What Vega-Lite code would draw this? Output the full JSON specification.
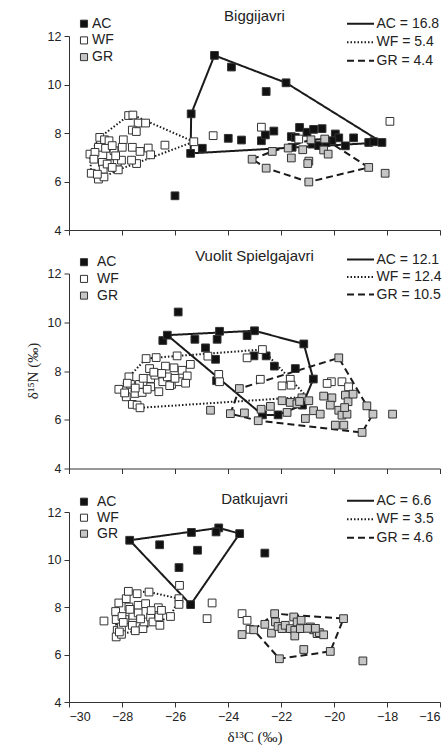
{
  "$schema": "https://vega.github.io/schema/vega-lite/v6.json",
  "background": "white",
  "padding": {"left": 25, "top": 8, "right": 6, "bottom": 2},
  "config": {
    "view": {"stroke": null},
    "axis": {"grid": false, "domainColor": "#333", "tickColor": "#333", "labelFont": "Liberation Sans", "labelFontSize": 12.5, "labelColor": "#222", "tickSize": 5, "labelPadding": 3, "domainWidth": 1},
    "legend": {"labelFont": "Liberation Sans", "labelFontSize": 14, "labelColor": "#222", "padding": 0, "title": null},
    "title": {"font": "Liberation Sans", "fontSize": 15, "fontWeight": "normal", "color": "#222", "anchor": "middle", "baseline": "alphabetic"}
  },
  "datasets": {
    "pts": [
      {"lake":"Biggijavri","group":"AC","d13C":-26.0,"d15N":5.41},{"lake":"Biggijavri","group":"AC","d13C":-25.41,"d15N":7.16},{"lake":"Biggijavri","group":"AC","d13C":-25.39,"d15N":8.79},{"lake":"Biggijavri","group":"AC","d13C":-24.51,"d15N":11.2},{"lake":"Biggijavri","group":"AC","d13C":-23.87,"d15N":10.72},{"lake":"Biggijavri","group":"AC","d13C":-24.97,"d15N":7.37},{"lake":"Biggijavri","group":"AC","d13C":-22.56,"d15N":9.71},{"lake":"Biggijavri","group":"AC","d13C":-21.81,"d15N":10.07},{"lake":"Biggijavri","group":"AC","d13C":-18.19,"d15N":7.61},{"lake":"Biggijavri","group":"AC","d13C":-23.99,"d15N":7.78},{"lake":"Biggijavri","group":"AC","d13C":-23.49,"d15N":7.71},{"lake":"Biggijavri","group":"AC","d13C":-22.74,"d15N":7.68},{"lake":"Biggijavri","group":"AC","d13C":-22.59,"d15N":7.92},{"lake":"Biggijavri","group":"AC","d13C":-22.27,"d15N":8.08},{"lake":"Biggijavri","group":"AC","d13C":-21.61,"d15N":7.85},{"lake":"Biggijavri","group":"AC","d13C":-21.3,"d15N":8.23},{"lake":"Biggijavri","group":"AC","d13C":-21.58,"d15N":7.41},{"lake":"Biggijavri","group":"AC","d13C":-21.02,"d15N":8.03},{"lake":"Biggijavri","group":"AC","d13C":-20.77,"d15N":8.15},{"lake":"Biggijavri","group":"AC","d13C":-20.45,"d15N":8.18},{"lake":"Biggijavri","group":"AC","d13C":-20.83,"d15N":7.54},{"lake":"Biggijavri","group":"AC","d13C":-20.58,"d15N":7.48},{"lake":"Biggijavri","group":"AC","d13C":-19.95,"d15N":7.96},{"lake":"Biggijavri","group":"AC","d13C":-19.82,"d15N":7.8},{"lake":"Biggijavri","group":"AC","d13C":-19.57,"d15N":7.47},{"lake":"Biggijavri","group":"AC","d13C":-19.26,"d15N":7.8},{"lake":"Biggijavri","group":"AC","d13C":-18.69,"d15N":7.61},{"lake":"Biggijavri","group":"AC","d13C":-18.5,"d15N":7.64},{"lake":"Biggijavri","group":"AC","d13C":-20.08,"d15N":7.68},{"lake":"Biggijavri","group":"AC","d13C":-21.46,"d15N":7.82},{"lake":"Biggijavri","group":"AC","d13C":-20.3,"d15N":7.6},
      {"lake":"Biggijavri","group":"WF","d13C":-29.21,"d15N":7.13},{"lake":"Biggijavri","group":"WF","d13C":-29.16,"d15N":6.34},{"lake":"Biggijavri","group":"WF","d13C":-28.89,"d15N":6.1},{"lake":"Biggijavri","group":"WF","d13C":-28.68,"d15N":6.19},{"lake":"Biggijavri","group":"WF","d13C":-28.84,"d15N":7.82},{"lake":"Biggijavri","group":"WF","d13C":-28.66,"d15N":7.72},{"lake":"Biggijavri","group":"WF","d13C":-28.49,"d15N":7.68},{"lake":"Biggijavri","group":"WF","d13C":-28.74,"d15N":6.79},{"lake":"Biggijavri","group":"WF","d13C":-28.71,"d15N":6.51},{"lake":"Biggijavri","group":"WF","d13C":-28.56,"d15N":6.72},{"lake":"Biggijavri","group":"WF","d13C":-28.43,"d15N":7.06},{"lake":"Biggijavri","group":"WF","d13C":-28.3,"d15N":7.27},{"lake":"Biggijavri","group":"WF","d13C":-28.18,"d15N":6.79},{"lake":"Biggijavri","group":"WF","d13C":-28.14,"d15N":6.48},{"lake":"Biggijavri","group":"WF","d13C":-28.02,"d15N":6.88},{"lake":"Biggijavri","group":"WF","d13C":-27.95,"d15N":7.72},{"lake":"Biggijavri","group":"WF","d13C":-27.99,"d15N":7.41},{"lake":"Biggijavri","group":"WF","d13C":-28.89,"d15N":7.41},{"lake":"Biggijavri","group":"WF","d13C":-29.02,"d15N":7.2},{"lake":"Biggijavri","group":"WF","d13C":-28.62,"d15N":7.37},{"lake":"Biggijavri","group":"WF","d13C":-28.37,"d15N":7.48},{"lake":"Biggijavri","group":"WF","d13C":-27.75,"d15N":8.72},{"lake":"Biggijavri","group":"WF","d13C":-27.59,"d15N":8.74},{"lake":"Biggijavri","group":"WF","d13C":-27.39,"d15N":8.41},{"lake":"Biggijavri","group":"WF","d13C":-27.11,"d15N":8.41},{"lake":"Biggijavri","group":"WF","d13C":-27.61,"d15N":8.12},{"lake":"Biggijavri","group":"WF","d13C":-27.46,"d15N":8.06},{"lake":"Biggijavri","group":"WF","d13C":-27.61,"d15N":7.41},{"lake":"Biggijavri","group":"WF","d13C":-27.32,"d15N":7.24},{"lake":"Biggijavri","group":"WF","d13C":-27.01,"d15N":7.38},{"lake":"Biggijavri","group":"WF","d13C":-26.92,"d15N":7.1},{"lake":"Biggijavri","group":"WF","d13C":-27.45,"d15N":6.74},{"lake":"Biggijavri","group":"WF","d13C":-27.64,"d15N":6.88},{"lake":"Biggijavri","group":"WF","d13C":-26.38,"d15N":7.5},{"lake":"Biggijavri","group":"WF","d13C":-25.29,"d15N":7.64},{"lake":"Biggijavri","group":"WF","d13C":-24.56,"d15N":7.89},{"lake":"Biggijavri","group":"WF","d13C":-22.74,"d15N":8.24},{"lake":"Biggijavri","group":"WF","d13C":-21.33,"d15N":7.75},{"lake":"Biggijavri","group":"WF","d13C":-17.89,"d15N":8.48},{"lake":"Biggijavri","group":"WF","d13C":-28.93,"d15N":6.3},{"lake":"Biggijavri","group":"WF","d13C":-29.06,"d15N":6.92},{"lake":"Biggijavri","group":"WF","d13C":-28.37,"d15N":6.58},{"lake":"Biggijavri","group":"WF","d13C":-28.24,"d15N":7.06},
      {"lake":"Biggijavri","group":"GR","d13C":-23.09,"d15N":6.92},{"lake":"Biggijavri","group":"GR","d13C":-22.56,"d15N":6.55},{"lake":"Biggijavri","group":"GR","d13C":-22.33,"d15N":7.24},{"lake":"Biggijavri","group":"GR","d13C":-21.73,"d15N":7.38},{"lake":"Biggijavri","group":"GR","d13C":-21.61,"d15N":6.97},{"lake":"Biggijavri","group":"GR","d13C":-21.18,"d15N":7.31},{"lake":"Biggijavri","group":"GR","d13C":-20.95,"d15N":6.84},{"lake":"Biggijavri","group":"GR","d13C":-20.99,"d15N":6.74},{"lake":"Biggijavri","group":"GR","d13C":-20.87,"d15N":7.72},{"lake":"Biggijavri","group":"GR","d13C":-20.35,"d15N":7.75},{"lake":"Biggijavri","group":"GR","d13C":-20.39,"d15N":7.3},{"lake":"Biggijavri","group":"GR","d13C":-20.22,"d15N":7.13},{"lake":"Biggijavri","group":"GR","d13C":-20.95,"d15N":5.98},{"lake":"Biggijavri","group":"GR","d13C":-18.69,"d15N":6.58},{"lake":"Biggijavri","group":"GR","d13C":-18.07,"d15N":6.34},

      {"lake":"Vuolit Spielgajavri","group":"AC","d13C":-25.88,"d15N":10.42},{"lake":"Vuolit Spielgajavri","group":"AC","d13C":-26.46,"d15N":9.25},{"lake":"Vuolit Spielgajavri","group":"AC","d13C":-26.29,"d15N":9.47},{"lake":"Vuolit Spielgajavri","group":"AC","d13C":-25.25,"d15N":9.3},{"lake":"Vuolit Spielgajavri","group":"AC","d13C":-24.32,"d15N":9.63},{"lake":"Vuolit Spielgajavri","group":"AC","d13C":-24.41,"d15N":9.3},{"lake":"Vuolit Spielgajavri","group":"AC","d13C":-23.0,"d15N":9.65},{"lake":"Vuolit Spielgajavri","group":"AC","d13C":-23.28,"d15N":9.45},{"lake":"Vuolit Spielgajavri","group":"AC","d13C":-24.85,"d15N":8.95},{"lake":"Vuolit Spielgajavri","group":"AC","d13C":-24.47,"d15N":8.48},{"lake":"Vuolit Spielgajavri","group":"AC","d13C":-23.02,"d15N":8.62},{"lake":"Vuolit Spielgajavri","group":"AC","d13C":-22.56,"d15N":8.62},{"lake":"Vuolit Spielgajavri","group":"AC","d13C":-22.25,"d15N":8.2},{"lake":"Vuolit Spielgajavri","group":"AC","d13C":-21.46,"d15N":8.1},{"lake":"Vuolit Spielgajavri","group":"AC","d13C":-21.14,"d15N":9.11},{"lake":"Vuolit Spielgajavri","group":"AC","d13C":-20.78,"d15N":7.67},{"lake":"Vuolit Spielgajavri","group":"AC","d13C":-21.19,"d15N":6.6},{"lake":"Vuolit Spielgajavri","group":"AC","d13C":-22.11,"d15N":6.2},{"lake":"Vuolit Spielgajavri","group":"AC","d13C":-22.7,"d15N":6.2},{"lake":"Vuolit Spielgajavri","group":"AC","d13C":-24.43,"d15N":7.6},
      {"lake":"Vuolit Spielgajavri","group":"WF","d13C":-28.12,"d15N":7.25},{"lake":"Vuolit Spielgajavri","group":"WF","d13C":-27.84,"d15N":6.94},{"lake":"Vuolit Spielgajavri","group":"WF","d13C":-27.74,"d15N":7.76},{"lake":"Vuolit Spielgajavri","group":"WF","d13C":-27.68,"d15N":7.45},{"lake":"Vuolit Spielgajavri","group":"WF","d13C":-27.51,"d15N":7.08},{"lake":"Vuolit Spielgajavri","group":"WF","d13C":-27.61,"d15N":6.63},{"lake":"Vuolit Spielgajavri","group":"WF","d13C":-27.43,"d15N":6.6},{"lake":"Vuolit Spielgajavri","group":"WF","d13C":-27.32,"d15N":6.49},{"lake":"Vuolit Spielgajavri","group":"WF","d13C":-27.34,"d15N":7.45},{"lake":"Vuolit Spielgajavri","group":"WF","d13C":-27.24,"d15N":7.12},{"lake":"Vuolit Spielgajavri","group":"WF","d13C":-27.09,"d15N":8.51},{"lake":"Vuolit Spielgajavri","group":"WF","d13C":-26.71,"d15N":8.55},{"lake":"Vuolit Spielgajavri","group":"WF","d13C":-26.96,"d15N":8.1},{"lake":"Vuolit Spielgajavri","group":"WF","d13C":-26.92,"d15N":7.69},{"lake":"Vuolit Spielgajavri","group":"WF","d13C":-26.92,"d15N":7.35},{"lake":"Vuolit Spielgajavri","group":"WF","d13C":-26.76,"d15N":7.83},{"lake":"Vuolit Spielgajavri","group":"WF","d13C":-26.61,"d15N":7.15},{"lake":"Vuolit Spielgajavri","group":"WF","d13C":-26.36,"d15N":8.2},{"lake":"Vuolit Spielgajavri","group":"WF","d13C":-26.46,"d15N":7.56},{"lake":"Vuolit Spielgajavri","group":"WF","d13C":-26.29,"d15N":7.76},{"lake":"Vuolit Spielgajavri","group":"WF","d13C":-26.13,"d15N":7.45},{"lake":"Vuolit Spielgajavri","group":"WF","d13C":-26.04,"d15N":8.13},{"lake":"Vuolit Spielgajavri","group":"WF","d13C":-25.92,"d15N":8.62},{"lake":"Vuolit Spielgajavri","group":"WF","d13C":-25.85,"d15N":7.56},{"lake":"Vuolit Spielgajavri","group":"WF","d13C":-25.73,"d15N":8.03},{"lake":"Vuolit Spielgajavri","group":"WF","d13C":-25.54,"d15N":7.8},{"lake":"Vuolit Spielgajavri","group":"WF","d13C":-25.42,"d15N":8.27},{"lake":"Vuolit Spielgajavri","group":"WF","d13C":-24.76,"d15N":8.61},{"lake":"Vuolit Spielgajavri","group":"WF","d13C":-24.35,"d15N":7.86},{"lake":"Vuolit Spielgajavri","group":"WF","d13C":-24.32,"d15N":7.56},{"lake":"Vuolit Spielgajavri","group":"WF","d13C":-23.28,"d15N":8.54},{"lake":"Vuolit Spielgajavri","group":"WF","d13C":-22.7,"d15N":8.88},{"lake":"Vuolit Spielgajavri","group":"WF","d13C":-22.78,"d15N":7.66},{"lake":"Vuolit Spielgajavri","group":"WF","d13C":-21.96,"d15N":7.39},{"lake":"Vuolit Spielgajavri","group":"WF","d13C":-21.65,"d15N":7.66},{"lake":"Vuolit Spielgajavri","group":"WF","d13C":-21.62,"d15N":7.42},{"lake":"Vuolit Spielgajavri","group":"WF","d13C":-20.1,"d15N":7.56},{"lake":"Vuolit Spielgajavri","group":"WF","d13C":-19.7,"d15N":7.56},{"lake":"Vuolit Spielgajavri","group":"WF","d13C":-19.45,"d15N":7.35},{"lake":"Vuolit Spielgajavri","group":"WF","d13C":-20.26,"d15N":7.49},{"lake":"Vuolit Spielgajavri","group":"WF","d13C":-27.8,"d15N":7.5},{"lake":"Vuolit Spielgajavri","group":"WF","d13C":-27.5,"d15N":7.3},{"lake":"Vuolit Spielgajavri","group":"WF","d13C":-27.2,"d15N":7.7},{"lake":"Vuolit Spielgajavri","group":"WF","d13C":-26.8,"d15N":7.95},{"lake":"Vuolit Spielgajavri","group":"WF","d13C":-26.5,"d15N":7.9},{"lake":"Vuolit Spielgajavri","group":"WF","d13C":-26.2,"d15N":7.4},{"lake":"Vuolit Spielgajavri","group":"WF","d13C":-25.6,"d15N":7.5},{"lake":"Vuolit Spielgajavri","group":"WF","d13C":-26.0,"d15N":7.7},{"lake":"Vuolit Spielgajavri","group":"WF","d13C":-27.05,"d15N":7.25},{"lake":"Vuolit Spielgajavri","group":"WF","d13C":-27.9,"d15N":7.1},
      {"lake":"Vuolit Spielgajavri","group":"GR","d13C":-24.66,"d15N":6.39},{"lake":"Vuolit Spielgajavri","group":"GR","d13C":-23.91,"d15N":6.25},{"lake":"Vuolit Spielgajavri","group":"GR","d13C":-23.57,"d15N":7.28},{"lake":"Vuolit Spielgajavri","group":"GR","d13C":-23.38,"d15N":6.28},{"lake":"Vuolit Spielgajavri","group":"GR","d13C":-22.86,"d15N":5.96},{"lake":"Vuolit Spielgajavri","group":"GR","d13C":-22.75,"d15N":6.43},{"lake":"Vuolit Spielgajavri","group":"GR","d13C":-21.96,"d15N":6.78},{"lake":"Vuolit Spielgajavri","group":"GR","d13C":-21.65,"d15N":6.71},{"lake":"Vuolit Spielgajavri","group":"GR","d13C":-21.21,"d15N":6.9},{"lake":"Vuolit Spielgajavri","group":"GR","d13C":-20.95,"d15N":6.78},{"lake":"Vuolit Spielgajavri","group":"GR","d13C":-21.77,"d15N":6.3},{"lake":"Vuolit Spielgajavri","group":"GR","d13C":-21.08,"d15N":6.05},{"lake":"Vuolit Spielgajavri","group":"GR","d13C":-20.77,"d15N":6.37},{"lake":"Vuolit Spielgajavri","group":"GR","d13C":-20.52,"d15N":6.23},{"lake":"Vuolit Spielgajavri","group":"GR","d13C":-20.39,"d15N":6.97},{"lake":"Vuolit Spielgajavri","group":"GR","d13C":-20.08,"d15N":6.9},{"lake":"Vuolit Spielgajavri","group":"GR","d13C":-20.14,"d15N":6.6},{"lake":"Vuolit Spielgajavri","group":"GR","d13C":-19.82,"d15N":6.39},{"lake":"Vuolit Spielgajavri","group":"GR","d13C":-19.7,"d15N":6.19},{"lake":"Vuolit Spielgajavri","group":"GR","d13C":-19.57,"d15N":7.01},{"lake":"Vuolit Spielgajavri","group":"GR","d13C":-19.47,"d15N":6.74},{"lake":"Vuolit Spielgajavri","group":"GR","d13C":-19.28,"d15N":7.05},{"lake":"Vuolit Spielgajavri","group":"GR","d13C":-19.51,"d15N":6.23},{"lake":"Vuolit Spielgajavri","group":"GR","d13C":-19.95,"d15N":5.78},{"lake":"Vuolit Spielgajavri","group":"GR","d13C":-19.63,"d15N":5.78},{"lake":"Vuolit Spielgajavri","group":"GR","d13C":-19.82,"d15N":8.54},{"lake":"Vuolit Spielgajavri","group":"GR","d13C":-18.76,"d15N":6.57},{"lake":"Vuolit Spielgajavri","group":"GR","d13C":-18.53,"d15N":6.23},{"lake":"Vuolit Spielgajavri","group":"GR","d13C":-18.94,"d15N":5.48},{"lake":"Vuolit Spielgajavri","group":"GR","d13C":-17.79,"d15N":6.23},{"lake":"Vuolit Spielgajavri","group":"GR","d13C":-21.4,"d15N":6.65},{"lake":"Vuolit Spielgajavri","group":"GR","d13C":-21.3,"d15N":6.75},{"lake":"Vuolit Spielgajavri","group":"GR","d13C":-22.4,"d15N":6.55},{"lake":"Vuolit Spielgajavri","group":"GR","d13C":-19.6,"d15N":6.5},

      {"lake":"Datkujavri","group":"AC","d13C":-27.71,"d15N":10.81},{"lake":"Datkujavri","group":"AC","d13C":-26.58,"d15N":10.62},{"lake":"Datkujavri","group":"AC","d13C":-25.38,"d15N":11.14},{"lake":"Datkujavri","group":"AC","d13C":-24.35,"d15N":11.33},{"lake":"Datkujavri","group":"AC","d13C":-24.45,"d15N":11.16},{"lake":"Datkujavri","group":"AC","d13C":-23.56,"d15N":11.09},{"lake":"Datkujavri","group":"AC","d13C":-25.15,"d15N":10.39},{"lake":"Datkujavri","group":"AC","d13C":-25.85,"d15N":9.66},{"lake":"Datkujavri","group":"AC","d13C":-25.41,"d15N":8.1},{"lake":"Datkujavri","group":"AC","d13C":-22.61,"d15N":10.27},
      {"lake":"Datkujavri","group":"WF","d13C":-28.68,"d15N":7.41},{"lake":"Datkujavri","group":"WF","d13C":-28.24,"d15N":7.81},{"lake":"Datkujavri","group":"WF","d13C":-28.12,"d15N":8.17},{"lake":"Datkujavri","group":"WF","d13C":-28.22,"d15N":7.47},{"lake":"Datkujavri","group":"WF","d13C":-28.18,"d15N":7.02},{"lake":"Datkujavri","group":"WF","d13C":-28.22,"d15N":6.74},{"lake":"Datkujavri","group":"WF","d13C":-28.02,"d15N":6.85},{"lake":"Datkujavri","group":"WF","d13C":-28.02,"d15N":7.16},{"lake":"Datkujavri","group":"WF","d13C":-27.89,"d15N":7.47},{"lake":"Datkujavri","group":"WF","d13C":-27.84,"d15N":8.35},{"lake":"Datkujavri","group":"WF","d13C":-27.76,"d15N":8.66},{"lake":"Datkujavri","group":"WF","d13C":-27.74,"d15N":8.0},{"lake":"Datkujavri","group":"WF","d13C":-27.61,"d15N":7.23},{"lake":"Datkujavri","group":"WF","d13C":-27.59,"d15N":7.65},{"lake":"Datkujavri","group":"WF","d13C":-27.43,"d15N":8.56},{"lake":"Datkujavri","group":"WF","d13C":-27.39,"d15N":8.07},{"lake":"Datkujavri","group":"WF","d13C":-27.39,"d15N":7.75},{"lake":"Datkujavri","group":"WF","d13C":-27.21,"d15N":7.09},{"lake":"Datkujavri","group":"WF","d13C":-27.17,"d15N":7.37},{"lake":"Datkujavri","group":"WF","d13C":-27.11,"d15N":8.14},{"lake":"Datkujavri","group":"WF","d13C":-26.98,"d15N":8.63},{"lake":"Datkujavri","group":"WF","d13C":-26.92,"d15N":7.58},{"lake":"Datkujavri","group":"WF","d13C":-26.83,"d15N":7.37},{"lake":"Datkujavri","group":"WF","d13C":-26.63,"d15N":7.97},{"lake":"Datkujavri","group":"WF","d13C":-26.61,"d15N":7.58},{"lake":"Datkujavri","group":"WF","d13C":-26.51,"d15N":7.86},{"lake":"Datkujavri","group":"WF","d13C":-26.57,"d15N":7.23},{"lake":"Datkujavri","group":"WF","d13C":-26.17,"d15N":7.6},{"lake":"Datkujavri","group":"WF","d13C":-25.83,"d15N":8.91},{"lake":"Datkujavri","group":"WF","d13C":-25.85,"d15N":8.35},{"lake":"Datkujavri","group":"WF","d13C":-25.85,"d15N":8.11},{"lake":"Datkujavri","group":"WF","d13C":-24.6,"d15N":8.17},{"lake":"Datkujavri","group":"WF","d13C":-24.79,"d15N":7.51},{"lake":"Datkujavri","group":"WF","d13C":-23.47,"d15N":7.72},{"lake":"Datkujavri","group":"WF","d13C":-23.28,"d15N":7.44},{"lake":"Datkujavri","group":"WF","d13C":-23.17,"d15N":7.06},{"lake":"Datkujavri","group":"WF","d13C":-28.0,"d15N":7.6},{"lake":"Datkujavri","group":"WF","d13C":-27.95,"d15N":7.35},{"lake":"Datkujavri","group":"WF","d13C":-27.7,"d15N":7.9},{"lake":"Datkujavri","group":"WF","d13C":-27.3,"d15N":7.5},{"lake":"Datkujavri","group":"WF","d13C":-27.5,"d15N":7.0},{"lake":"Datkujavri","group":"WF","d13C":-26.9,"d15N":7.85},{"lake":"Datkujavri","group":"WF","d13C":-28.1,"d15N":6.95},
      {"lake":"Datkujavri","group":"GR","d13C":-23.47,"d15N":6.84},{"lake":"Datkujavri","group":"GR","d13C":-23.03,"d15N":7.04},{"lake":"Datkujavri","group":"GR","d13C":-22.61,"d15N":7.27},{"lake":"Datkujavri","group":"GR","d13C":-22.36,"d15N":6.9},{"lake":"Datkujavri","group":"GR","d13C":-22.24,"d15N":7.72},{"lake":"Datkujavri","group":"GR","d13C":-22.06,"d15N":5.82},{"lake":"Datkujavri","group":"GR","d13C":-22.21,"d15N":7.37},{"lake":"Datkujavri","group":"GR","d13C":-22.11,"d15N":7.18},{"lake":"Datkujavri","group":"GR","d13C":-21.96,"d15N":7.09},{"lake":"Datkujavri","group":"GR","d13C":-21.84,"d15N":7.23},{"lake":"Datkujavri","group":"GR","d13C":-21.65,"d15N":7.09},{"lake":"Datkujavri","group":"GR","d13C":-21.52,"d15N":7.58},{"lake":"Datkujavri","group":"GR","d13C":-21.48,"d15N":7.02},{"lake":"Datkujavri","group":"GR","d13C":-21.48,"d15N":6.78},{"lake":"Datkujavri","group":"GR","d13C":-21.39,"d15N":7.37},{"lake":"Datkujavri","group":"GR","d13C":-21.27,"d15N":7.09},{"lake":"Datkujavri","group":"GR","d13C":-21.24,"d15N":7.44},{"lake":"Datkujavri","group":"GR","d13C":-21.14,"d15N":6.21},{"lake":"Datkujavri","group":"GR","d13C":-20.89,"d15N":7.16},{"lake":"Datkujavri","group":"GR","d13C":-20.77,"d15N":7.04},{"lake":"Datkujavri","group":"GR","d13C":-20.64,"d15N":6.88},{"lake":"Datkujavri","group":"GR","d13C":-20.55,"d15N":6.92},{"lake":"Datkujavri","group":"GR","d13C":-20.39,"d15N":6.83},{"lake":"Datkujavri","group":"GR","d13C":-20.14,"d15N":6.13},{"lake":"Datkujavri","group":"GR","d13C":-19.64,"d15N":7.51},{"lake":"Datkujavri","group":"GR","d13C":-18.91,"d15N":5.73},{"lake":"Datkujavri","group":"GR","d13C":-21.0,"d15N":7.1},{"lake":"Datkujavri","group":"GR","d13C":-20.7,"d15N":7.1}
    ],
    "hulls": [
      {"lake":"Biggijavri","hull":"AC","v":0,"d13C":-25.41,"d15N":7.16},{"lake":"Biggijavri","hull":"AC","v":1,"d13C":-25.39,"d15N":8.79},{"lake":"Biggijavri","hull":"AC","v":2,"d13C":-24.51,"d15N":11.2},{"lake":"Biggijavri","hull":"AC","v":3,"d13C":-21.81,"d15N":10.07},{"lake":"Biggijavri","hull":"AC","v":4,"d13C":-18.19,"d15N":7.61},{"lake":"Biggijavri","hull":"AC","v":5,"d13C":-25.41,"d15N":7.16},
      {"lake":"Biggijavri","hull":"WF","v":0,"d13C":-29.16,"d15N":6.34},{"lake":"Biggijavri","hull":"WF","v":1,"d13C":-29.21,"d15N":7.13},{"lake":"Biggijavri","hull":"WF","v":2,"d13C":-28.84,"d15N":7.82},{"lake":"Biggijavri","hull":"WF","v":3,"d13C":-27.75,"d15N":8.72},{"lake":"Biggijavri","hull":"WF","v":4,"d13C":-27.59,"d15N":8.74},{"lake":"Biggijavri","hull":"WF","v":5,"d13C":-25.29,"d15N":7.64},{"lake":"Biggijavri","hull":"WF","v":6,"d13C":-28.14,"d15N":6.48},{"lake":"Biggijavri","hull":"WF","v":7,"d13C":-28.68,"d15N":6.19},{"lake":"Biggijavri","hull":"WF","v":8,"d13C":-29.16,"d15N":6.34},
      {"lake":"Biggijavri","hull":"GR","v":0,"d13C":-23.09,"d15N":6.92},{"lake":"Biggijavri","hull":"GR","v":1,"d13C":-22.33,"d15N":7.24},{"lake":"Biggijavri","hull":"GR","v":2,"d13C":-20.87,"d15N":7.72},{"lake":"Biggijavri","hull":"GR","v":3,"d13C":-20.35,"d15N":7.75},{"lake":"Biggijavri","hull":"GR","v":4,"d13C":-18.69,"d15N":6.58},{"lake":"Biggijavri","hull":"GR","v":5,"d13C":-20.95,"d15N":5.98},{"lake":"Biggijavri","hull":"GR","v":6,"d13C":-22.56,"d15N":6.55},{"lake":"Biggijavri","hull":"GR","v":7,"d13C":-23.09,"d15N":6.92},

      {"lake":"Vuolit Spielgajavri","hull":"AC","v":0,"d13C":-26.29,"d15N":9.47},{"lake":"Vuolit Spielgajavri","hull":"AC","v":1,"d13C":-23.0,"d15N":9.65},{"lake":"Vuolit Spielgajavri","hull":"AC","v":2,"d13C":-21.14,"d15N":9.11},{"lake":"Vuolit Spielgajavri","hull":"AC","v":3,"d13C":-20.78,"d15N":7.67},{"lake":"Vuolit Spielgajavri","hull":"AC","v":4,"d13C":-21.19,"d15N":6.6},{"lake":"Vuolit Spielgajavri","hull":"AC","v":5,"d13C":-22.11,"d15N":6.2},{"lake":"Vuolit Spielgajavri","hull":"AC","v":6,"d13C":-22.7,"d15N":6.2},{"lake":"Vuolit Spielgajavri","hull":"AC","v":7,"d13C":-26.29,"d15N":9.47},
      {"lake":"Vuolit Spielgajavri","hull":"WF","v":0,"d13C":-28.12,"d15N":7.25},{"lake":"Vuolit Spielgajavri","hull":"WF","v":1,"d13C":-27.74,"d15N":7.76},{"lake":"Vuolit Spielgajavri","hull":"WF","v":2,"d13C":-27.09,"d15N":8.51},{"lake":"Vuolit Spielgajavri","hull":"WF","v":3,"d13C":-25.92,"d15N":8.62},{"lake":"Vuolit Spielgajavri","hull":"WF","v":4,"d13C":-22.7,"d15N":8.88},{"lake":"Vuolit Spielgajavri","hull":"WF","v":5,"d13C":-21.02,"d15N":6.94},{"lake":"Vuolit Spielgajavri","hull":"WF","v":6,"d13C":-27.32,"d15N":6.49},{"lake":"Vuolit Spielgajavri","hull":"WF","v":7,"d13C":-28.12,"d15N":7.25},
      {"lake":"Vuolit Spielgajavri","hull":"GR","v":0,"d13C":-23.91,"d15N":6.25},{"lake":"Vuolit Spielgajavri","hull":"GR","v":1,"d13C":-23.57,"d15N":7.28},{"lake":"Vuolit Spielgajavri","hull":"GR","v":2,"d13C":-19.82,"d15N":8.54},{"lake":"Vuolit Spielgajavri","hull":"GR","v":3,"d13C":-18.76,"d15N":6.57},{"lake":"Vuolit Spielgajavri","hull":"GR","v":4,"d13C":-18.53,"d15N":6.23},{"lake":"Vuolit Spielgajavri","hull":"GR","v":5,"d13C":-18.94,"d15N":5.48},{"lake":"Vuolit Spielgajavri","hull":"GR","v":6,"d13C":-22.86,"d15N":5.96},{"lake":"Vuolit Spielgajavri","hull":"GR","v":7,"d13C":-23.91,"d15N":6.25},

      {"lake":"Datkujavri","hull":"AC","v":0,"d13C":-27.71,"d15N":10.81},{"lake":"Datkujavri","hull":"AC","v":1,"d13C":-24.35,"d15N":11.33},{"lake":"Datkujavri","hull":"AC","v":2,"d13C":-23.56,"d15N":11.09},{"lake":"Datkujavri","hull":"AC","v":3,"d13C":-25.41,"d15N":8.1},{"lake":"Datkujavri","hull":"AC","v":4,"d13C":-27.71,"d15N":10.81},
      {"lake":"Datkujavri","hull":"WF","v":0,"d13C":-28.24,"d15N":7.81},{"lake":"Datkujavri","hull":"WF","v":1,"d13C":-27.76,"d15N":8.66},{"lake":"Datkujavri","hull":"WF","v":2,"d13C":-26.98,"d15N":8.63},{"lake":"Datkujavri","hull":"WF","v":3,"d13C":-25.85,"d15N":8.35},{"lake":"Datkujavri","hull":"WF","v":4,"d13C":-26.17,"d15N":7.6},{"lake":"Datkujavri","hull":"WF","v":5,"d13C":-27.21,"d15N":7.09},{"lake":"Datkujavri","hull":"WF","v":6,"d13C":-28.02,"d15N":6.85},{"lake":"Datkujavri","hull":"WF","v":7,"d13C":-28.24,"d15N":7.3},{"lake":"Datkujavri","hull":"WF","v":8,"d13C":-28.24,"d15N":7.81},
      {"lake":"Datkujavri","hull":"GR","v":0,"d13C":-23.03,"d15N":7.04},{"lake":"Datkujavri","hull":"GR","v":1,"d13C":-22.24,"d15N":7.72},{"lake":"Datkujavri","hull":"GR","v":2,"d13C":-19.64,"d15N":7.51},{"lake":"Datkujavri","hull":"GR","v":3,"d13C":-20.14,"d15N":6.13},{"lake":"Datkujavri","hull":"GR","v":4,"d13C":-22.06,"d15N":5.82},{"lake":"Datkujavri","hull":"GR","v":5,"d13C":-23.03,"d15N":7.04}
    ]
  },
  "bounds": "flush",
  "spacing": 43.5,
  "resolve": {
    "scale": {"fill": "independent", "strokeDash": "independent"},
    "legend": {"fill": "independent", "strokeDash": "independent"}
  },
  "vconcat": [
    {
      "width": 371, "height": 194,
      "title": {"text": "Biggijavri", "offset": -7},
      "layer": [
        {
          "data": {"name": "hulls"},
          "transform": [{"filter": "datum.lake == 'Biggijavri'"}],
          "mark": {"type": "line", "strokeWidth": 2, "color": "#1a1a1a"},
          "encoding": {
            "x": {"field": "d13C", "type": "quantitative", "scale": {"domain": [-30, -16], "nice": false, "zero": false}, "axis": {"values": [-30, -28, -26, -24, -22, -20, -18, -16], "labels": false, "title": null}},
            "y": {"field": "d15N", "type": "quantitative", "scale": {"domain": [4, 12], "nice": false, "zero": false}, "axis": {"values": [4, 6, 8, 10, 12], "title": null}},
            "order": {"field": "v"},
            "strokeDash": {"field": "hull", "type": "nominal", "sort": null, "scale": {"range": [[1, 0], [1.5, 2], [7, 4]]},
              "legend": {"orient": "none", "legendX": 284.5, "legendY": -19.3, "symbolType": "M-2.25,0H2.25", "symbolSize": 144, "symbolStrokeWidth": 2, "symbolStrokeColor": "#1a1a1a", "labelOffset": 9, "rowPadding": 4.5,
                "labelExpr": "datum.label == 'AC' ? 'AC = 16.8' : datum.label == 'WF' ? 'WF = 5.4' : 'GR = 4.4'"}}
          }
        },
        {
          "data": {"name": "pts"},
          "transform": [{"filter": "datum.lake == 'Biggijavri'"}],
          "mark": {"type": "point", "shape": "square", "filled": true, "size": 60, "opacity": 1, "stroke": "#333", "strokeWidth": 1},
          "encoding": {
            "x": {"field": "d13C", "type": "quantitative"},
            "y": {"field": "d15N", "type": "quantitative"},
            "fill": {"field": "group", "type": "nominal", "scale": {"domain": ["AC", "WF", "GR"], "range": ["#111111", "#ffffff", "#c6c6c6"]},
              "legend": {"orient": "none", "legendX": 8, "legendY": -19.3, "symbolType": "square", "symbolSize": 50, "symbolStrokeColor": "#333", "symbolStrokeWidth": 1, "labelOffset": 1, "rowPadding": 2.7}}
          }
        }
      ]
    },
    {
      "width": 371, "height": 195,
      "title": {"text": "Vuolit Spielgajavri", "offset": -11},
      "layer": [
        {
          "data": {"name": "hulls"},
          "transform": [{"filter": "datum.lake == 'Vuolit Spielgajavri'"}],
          "mark": {"type": "line", "strokeWidth": 2, "color": "#1a1a1a"},
          "encoding": {
            "x": {"field": "d13C", "type": "quantitative", "scale": {"domain": [-30, -16], "nice": false, "zero": false}, "axis": {"values": [-30, -28, -26, -24, -22, -20, -18, -16], "labels": false, "title": null}},
            "y": {"field": "d15N", "type": "quantitative", "scale": {"domain": [4, 12], "nice": false, "zero": false},
              "axis": {"values": [4, 6, 8, 10, 12], "title": "δ¹⁵N (‰)", "titleFont": "Liberation Serif", "titleFontSize": 15, "titleFontWeight": "normal", "titleColor": "#222", "titleX": -37, "titleY": 97, "titleAngle": -90, "titleAlign": "center", "titleBaseline": "middle"}},
            "order": {"field": "v"},
            "strokeDash": {"field": "hull", "type": "nominal", "sort": null, "scale": {"range": [[1, 0], [1.5, 2], [7, 4]]},
              "legend": {"orient": "none", "legendX": 284.5, "legendY": -21, "symbolType": "M-2.25,0H2.25", "symbolSize": 144, "symbolStrokeWidth": 2, "symbolStrokeColor": "#1a1a1a", "labelOffset": 9, "rowPadding": 3.5,
                "labelExpr": "datum.label == 'AC' ? 'AC = 12.1' : datum.label == 'WF' ? 'WF = 12.4' : 'GR = 10.5'"}}
          }
        },
        {
          "data": {"name": "pts"},
          "transform": [{"filter": "datum.lake == 'Vuolit Spielgajavri'"}],
          "mark": {"type": "point", "shape": "square", "filled": true, "size": 60, "opacity": 1, "stroke": "#333", "strokeWidth": 1},
          "encoding": {
            "x": {"field": "d13C", "type": "quantitative"},
            "y": {"field": "d15N", "type": "quantitative"},
            "fill": {"field": "group", "type": "nominal", "scale": {"domain": ["AC", "WF", "GR"], "range": ["#111111", "#ffffff", "#c6c6c6"]},
              "legend": {"orient": "none", "legendX": 8, "legendY": -18.3, "symbolType": "square", "symbolSize": 50, "symbolStrokeColor": "#333", "symbolStrokeWidth": 1, "labelOffset": 6, "rowPadding": 2.7}}
          }
        }
      ]
    },
    {
      "width": 371, "height": 190,
      "title": {"text": "Datkujavri", "offset": -13.5},
      "layer": [
        {
          "data": {"name": "hulls"},
          "transform": [{"filter": "datum.lake == 'Datkujavri'"}],
          "mark": {"type": "line", "strokeWidth": 2, "color": "#1a1a1a"},
          "encoding": {
            "x": {"field": "d13C", "type": "quantitative", "scale": {"domain": [-30, -16], "nice": false, "zero": false},
              "axis": {"values": [-30, -28, -26, -24, -22, -20, -18, -16], "title": "δ¹³C (‰)", "titleFont": "Liberation Serif", "titleFontSize": 15, "titleFontWeight": "normal", "titleColor": "#222", "titleY": 39, "titleBaseline": "alphabetic"}},
            "y": {"field": "d15N", "type": "quantitative", "scale": {"domain": [4, 12], "nice": false, "zero": false}, "axis": {"values": [4, 6, 8, 10, 12], "title": null}},
            "order": {"field": "v"},
            "strokeDash": {"field": "hull", "type": "nominal", "sort": null, "scale": {"range": [[1, 0], [1.5, 2], [7, 4]]},
              "legend": {"orient": "none", "legendX": 284.5, "legendY": -18.3, "symbolType": "M-2.25,0H2.25", "symbolSize": 144, "symbolStrokeWidth": 2, "symbolStrokeColor": "#1a1a1a", "labelOffset": 9, "rowPadding": 4.5,
                "labelExpr": "datum.label == 'AC' ? 'AC = 6.6' : datum.label == 'WF' ? 'WF = 3.5' : 'GR = 4.6'"}}
          }
        },
        {
          "data": {"name": "pts"},
          "transform": [{"filter": "datum.lake == 'Datkujavri'"}],
          "mark": {"type": "point", "shape": "square", "filled": true, "size": 60, "opacity": 1, "stroke": "#333", "strokeWidth": 1},
          "encoding": {
            "x": {"field": "d13C", "type": "quantitative"},
            "y": {"field": "d15N", "type": "quantitative"},
            "fill": {"field": "group", "type": "nominal", "scale": {"domain": ["AC", "WF", "GR"], "range": ["#111111", "#ffffff", "#c6c6c6"]},
              "legend": {"orient": "none", "legendX": 8, "legendY": -17.3, "symbolType": "square", "symbolSize": 50, "symbolStrokeColor": "#333", "symbolStrokeWidth": 1, "labelOffset": 6, "rowPadding": 2}}
          }
        }
      ]
    }
  ]
}
